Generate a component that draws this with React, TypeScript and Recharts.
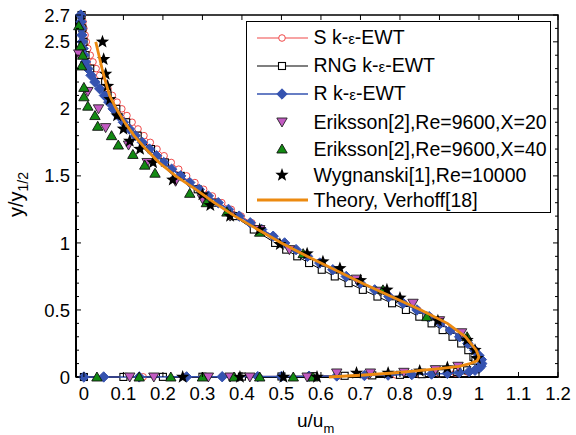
import React from 'react';
import { ScatterChart, Scatter, XAxis, YAxis, ReferenceArea } from 'recharts';

// [u/um, y/y1/2] pairs, listed from the outer edge down to the wall
const sKeEwt: [number, number][] = [
  [-0.004, 2.7], [-0.002, 2.65], [0.0, 2.6], [0.003, 2.55], [0.006, 2.5], [0.01, 2.45], [0.016, 2.4],
  [0.023, 2.35], [0.031, 2.3], [0.04, 2.25], [0.05, 2.2], [0.061, 2.15], [0.072, 2.1], [0.084, 2.05],
  [0.096, 2.0], [0.109, 1.95], [0.122, 1.9], [0.137, 1.85], [0.152, 1.8], [0.168, 1.75], [0.185, 1.7],
  [0.203, 1.65], [0.221, 1.6], [0.24, 1.55], [0.26, 1.5], [0.281, 1.45], [0.303, 1.4], [0.325, 1.35],
  [0.349, 1.3], [0.373, 1.25], [0.398, 1.2], [0.425, 1.15], [0.452, 1.1], [0.48, 1.05], [0.508, 1.0],
  [0.537, 0.95], [0.566, 0.9], [0.598, 0.85], [0.63, 0.8], [0.665, 0.75], [0.7, 0.7], [0.737, 0.65],
  [0.773, 0.6], [0.81, 0.55], [0.845, 0.5], [0.876, 0.45], [0.904, 0.4], [0.93, 0.35], [0.953, 0.3],
  [0.973, 0.25], [0.99, 0.2], [1.001, 0.15], [1.005, 0.1], [1.0, 0.07], [0.99, 0.05], [0.97, 0.038],
  [0.94, 0.03], [0.9, 0.024], [0.85, 0.019], [0.79, 0.015], [0.72, 0.011], [0.65, 0.008], [0.57, 0.006],
  [0.44, 0.004], [0.35, 0.003], [0.255, 0.002], [0.15, 0.001], [0.05, 0.0003], [0, 0],
];

const rngKeEwt: [number, number][] = [
  [-0.006, 2.7], [-0.004, 2.6], [-0.001, 2.5], [0.004, 2.4], [0.016, 2.3], [0.036, 2.2], [0.06, 2.1],
  [0.082, 2.0], [0.107, 1.9], [0.136, 1.8], [0.17, 1.7], [0.205, 1.6], [0.245, 1.5], [0.288, 1.4],
  [0.333, 1.3], [0.38, 1.2], [0.43, 1.1], [0.484, 1.0], [0.512, 0.95], [0.54, 0.9], [0.57, 0.85],
  [0.602, 0.8], [0.635, 0.75], [0.67, 0.7], [0.706, 0.65], [0.743, 0.6], [0.78, 0.55], [0.815, 0.5],
  [0.849, 0.45], [0.88, 0.4], [0.908, 0.35], [0.933, 0.3], [0.955, 0.25], [0.973, 0.2], [0.986, 0.15],
  [0.991, 0.12], [0.99, 0.09], [0.985, 0.07], [0.97, 0.05], [0.945, 0.038], [0.905, 0.028], [0.855, 0.021],
  [0.8, 0.016], [0.73, 0.012], [0.66, 0.009], [0.58, 0.006], [0.5, 0.004], [0.4, 0.003], [0.3, 0.002],
  [0.2, 0.001], [0.1, 0.0005], [0, 0],
];

const rKeEwt: [number, number][] = [
  [-0.008, 2.7], [-0.007, 2.65], [-0.006, 2.6], [-0.005, 2.55], [-0.004, 2.5], [-0.002, 2.45], [0.0, 2.4],
  [0.004, 2.35], [0.01, 2.3], [0.018, 2.25], [0.028, 2.2], [0.04, 2.15], [0.052, 2.1], [0.063, 2.05],
  [0.074, 2.0], [0.087, 1.95], [0.1, 1.9], [0.115, 1.85], [0.13, 1.8], [0.148, 1.75], [0.166, 1.7],
  [0.184, 1.65], [0.202, 1.6], [0.222, 1.55], [0.245, 1.5], [0.268, 1.45], [0.292, 1.4], [0.315, 1.35],
  [0.34, 1.3], [0.366, 1.25], [0.393, 1.2], [0.421, 1.15], [0.45, 1.1], [0.479, 1.05], [0.508, 1.0],
  [0.537, 0.95], [0.566, 0.9], [0.597, 0.85], [0.63, 0.8], [0.664, 0.75], [0.7, 0.7], [0.736, 0.65],
  [0.772, 0.6], [0.808, 0.55], [0.843, 0.5], [0.874, 0.45], [0.902, 0.4], [0.928, 0.35], [0.951, 0.3],
  [0.972, 0.25], [0.989, 0.2], [1.0, 0.16], [1.006, 0.13], [1.007, 0.1], [1.005, 0.08], [1.0, 0.065],
  [0.99, 0.05], [0.975, 0.04], [0.95, 0.033], [0.92, 0.027], [0.88, 0.022], [0.83, 0.018], [0.77, 0.014],
  [0.71, 0.011], [0.64, 0.008], [0.57, 0.006], [0.5, 0.004], [0.44, 0.003], [0.35, 0.002], [0.26, 0.001],
  [0.14, 0.0006], [0.05, 0.0003], [0, 0],
];

const eriksson20: [number, number][] = [
  [-0.013, 2.41], [0.01, 2.13], [0.037, 2.0], [0.055, 1.86], [0.113, 1.73], [0.16, 1.6], [0.232, 1.46],
  [0.3, 1.33], [0.37, 1.2], [0.445, 1.1], [0.52, 0.95], [0.69, 0.73], [0.75, 0.64], [0.833, 0.55],
  [0.9, 0.42], [0.956, 0.33], [0.947, 0.08], [0.89, 0.055], [0.81, 0.035], [0.725, 0.03], [0.64, 0.03],
  [0.565, 0], [0.42, 0], [0.37, 0], [0.315, 0], [0.177, 0], [0.116, 0],
];

const eriksson40: [number, number][] = [
  [-0.013, 2.62], [-0.008, 2.47], [-0.003, 2.4], [-0.006, 2.32], [0.0, 2.16], [0.0, 2.09], [0.01, 2.02],
  [0.028, 1.95], [0.035, 1.87], [0.07, 1.8], [0.087, 1.73], [0.124, 1.66], [0.154, 1.58], [0.18, 1.52],
  [0.268, 1.37], [0.31, 1.3], [0.362, 1.23], [0.445, 1.08], [0.555, 0.92], [0.757, 0.65], [0.868, 0.45],
  [0.97, 0.3], [0.033, 0], [0.14, 0], [0.22, 0], [0.3, 0], [0.38, 0], [0.445, 0], [0.53, 0], [0.58, 0],
];

const wygnanski: [number, number][] = [
  [0.047, 2.5], [0.05, 2.37], [0.055, 2.26], [0.06, 2.17], [0.066, 2.07], [0.084, 1.95], [0.1, 1.85],
  [0.116, 1.76], [0.142, 1.7], [0.175, 1.6], [0.225, 1.47], [0.3, 1.36], [0.32, 1.28], [0.37, 1.2],
  [0.445, 1.1], [0.496, 0.99], [0.565, 0.92], [0.605, 0.86], [0.648, 0.81], [0.7, 0.72], [0.767, 0.65],
  [0.8, 0.59], [0.896, 0.42], [0.97, 0.275], [0.99, 0.2], [0.995, 0.14], [0.92, 0.07], [0.85, 0.045],
  [0.77, 0.03], [0.69, 0.03], [0.59, 0], [0.505, 0], [0.395, 0], [0.25, 0],
];

const verhoff: [number, number][] = [
  [0.03, 2.5], [0.038, 2.4], [0.046, 2.3], [0.055, 2.2], [0.065, 2.1], [0.082, 2.0], [0.103, 1.9],
  [0.127, 1.8], [0.157, 1.7], [0.19, 1.6], [0.232, 1.5], [0.283, 1.4], [0.33, 1.3], [0.382, 1.2],
  [0.44, 1.1], [0.5, 1.0], [0.565, 0.9], [0.635, 0.8], [0.705, 0.7], [0.778, 0.6], [0.853, 0.5],
  [0.92, 0.4], [0.966, 0.3], [0.993, 0.2], [1.0, 0.15], [0.995, 0.12], [0.977, 0.1], [0.95, 0.08],
  [0.9, 0.063], [0.84, 0.045], [0.775, 0.028], [0.7, 0.013], [0.62, 0],
];

const xTicks = [0, 0.1, 0.2, 0.3, 0.4, 0.5, 0.6, 0.7, 0.8, 0.9, 1, 1.1, 1.2];
const yTicks = [0, 0.1, 0.2, 0.3, 0.4, 0.5, 0.6, 0.7, 0.8, 0.9, 1, 1.1, 1.2, 1.3, 1.4, 1.5, 1.6, 1.7, 1.8, 1.9, 2, 2.1, 2.2, 2.3, 2.4, 2.5, 2.6, 2.7];
const yLabels = [0, 0.5, 1, 1.5, 2, 2.5, 2.7];

const legendNames = [
  'S k-ε-EWT',
  'RNG k-ε-EWT',
  'R k-ε-EWT',
  'Eriksson[2],Re=9600,X=20',
  'Eriksson[2],Re=9600,X=40',
  'Wygnanski[1],Re=10000',
  'Theory, Verhoff[18]',
];

const FONT = '"Liberation Sans", Arial, Helvetica, sans-serif';
const W = 576;
const H = 435;
const PLOT = { left: 76, right: 558, top: 15, bottom: 377 };

const RED = '#f04848';
const BLUE = '#3553b0';
const ORANGE = '#ec8a10';
const MAGENTA = '#c25ac2';
const GREEN = '#128a12';

const toRows = (pts: [number, number][]) => pts.map(([u, y]) => ({ u, y }));

// marker shapes
const circle = (cx: number, cy: number) => (
  <circle cx={cx} cy={cy} r={3.3} fill="#fff" stroke={RED} strokeWidth={1} />
);
const square = (cx: number, cy: number) => (
  <rect x={cx - 3.5} y={cy - 3.5} width={7} height={7} fill="#fff" stroke="#000" strokeWidth={1.1} />
);
const diamond = (cx: number, cy: number) => (
  <path d={`M${cx},${cy - 5.2}L${cx + 5.2},${cy}L${cx},${cy + 5.2}L${cx - 5.2},${cy}Z`} fill={BLUE} stroke={BLUE} strokeWidth={1} />
);
const triDown = (cx: number, cy: number) => (
  <path d={`M${cx - 5.2},${cy - 4}L${cx + 5.2},${cy - 4}L${cx},${cy + 5}Z`} fill={MAGENTA} stroke="#222" strokeWidth={0.9} />
);
const triUp = (cx: number, cy: number) => (
  <path d={`M${cx - 5.2},${cy + 4}L${cx + 5.2},${cy + 4}L${cx},${cy - 5}Z`} fill={GREEN} stroke="#111" strokeWidth={0.9} />
);
const star = (cx: number, cy: number, R = 7, r = 2.9) => {
  let d = '';
  for (let i = 0; i < 10; i++) {
    const a = -Math.PI / 2 + (i * Math.PI) / 5;
    const rad = i % 2 === 0 ? R : r;
    d += `${i === 0 ? 'M' : 'L'}${(cx + rad * Math.cos(a)).toFixed(2)},${(cy + rad * Math.sin(a)).toFixed(2)}`;
  }
  return <path d={d + 'Z'} fill="#000" />;
};

const XTick = (props: any) => {
  const { x, payload } = props;
  return (
    <g>
      <line x1={x} x2={x} y1={PLOT.bottom} y2={PLOT.bottom - 5} stroke="#000" />
      <line x1={x} x2={x} y1={PLOT.top} y2={PLOT.top + 5} stroke="#000" />
      <text x={x} y={400} textAnchor="middle" fontSize={18.5} fontFamily={FONT} fill="#000">
        {payload.value}
      </text>
    </g>
  );
};

const YTick = (props: any) => {
  const { y, payload } = props;
  const major = yLabels.includes(payload.value);
  const len = major ? 5 : 3;
  return (
    <g>
      <line x1={PLOT.left} x2={PLOT.left + len} y1={y} y2={y} stroke="#000" />
      <line x1={PLOT.right} x2={PLOT.right - len} y1={y} y2={y} stroke="#000" />
      {major && (
        <text x={70} y={y + 6.6} textAnchor="end" fontSize={18.5} fontFamily={FONT} fill="#000">
          {payload.value}
        </text>
      )}
    </g>
  );
};

const XTitle = () => (
  <text x={297} y={427} fontSize={19} fontFamily={FONT} fill="#000">
    u/u<tspan fontSize={13} dy={6}>m</tspan>
  </text>
);

const YTitle = () => (
  <text transform="translate(23, 217) rotate(-90)" fontSize={20} fontFamily={FONT} fill="#000">
    y/y<tspan fontSize={14} dy={5}>1/2</tspan>
  </text>
);

const legendIcons = [
  (
    <g>
      <line x1={11} x2={62} y1={11} y2={11} stroke={RED} strokeWidth={1.2} />
      {circle(36, 11)}
    </g>
  ),
  (
    <g>
      <line x1={11} x2={62} y1={11} y2={11} stroke="#000" strokeWidth={1.2} />
      {square(36, 11)}
    </g>
  ),
  (
    <g>
      <line x1={11} x2={62} y1={11} y2={11} stroke={BLUE} strokeWidth={1.5} />
      {diamond(36, 11)}
    </g>
  ),
  triDown(36, 11),
  triUp(36, 11),
  star(36, 11),
  <line x1={11} x2={62} y1={11} y2={11} stroke={ORANGE} strokeWidth={2.8} />,
];

const legendRows = [17, 45, 73, 101, 128, 154, 179];

function LegendBox() {
  return (
    <div
      style={{
        position: 'absolute',
        left: 246,
        top: 21,
        width: 305,
        height: 192,
        border: '1.5px solid #000',
        boxSizing: 'border-box',
        background: '#fff',
        fontFamily: FONT,
      }}
    >
      {legendNames.map((name, i) => (
        <div
          key={name}
          style={{ position: 'absolute', left: -1.5, top: legendRows[i] - 11 - 1.5, height: 22, display: 'flex', alignItems: 'center', whiteSpace: 'nowrap' }}
        >
          <svg width={68} height={22} style={{ display: 'block' }}>
            {legendIcons[i]}
          </svg>
          <span style={{ fontSize: 19.5, lineHeight: '22px', color: '#000' }}>
            {name.split('ε').map((part, k, arr) => (
              <React.Fragment key={k}>
                {part}
                {k < arr.length - 1 && <span style={{ fontSize: 15 }}>ε</span>}
              </React.Fragment>
            ))}
          </span>
        </div>
      ))}
    </div>
  );
}

export default function App() {
  return (
    <div style={{ position: 'absolute', left: 0, top: 0, width: W, height: H, background: '#fff' }}>
      <ScatterChart width={W} height={H} margin={{ top: PLOT.top, right: W - PLOT.right, bottom: 18, left: 0 }}>
        <XAxis
          type="number"
          dataKey="u"
          domain={[-0.02, 1.2]}
          ticks={xTicks}
          interval={0}
          height={40}
          tickLine={false}
          axisLine={{ stroke: '#000', strokeWidth: 2 }}
          tick={XTick}
          label={<XTitle />}
        />
        <YAxis
          type="number"
          dataKey="y"
          domain={[0, 2.7]}
          ticks={yTicks}
          interval={0}
          width={PLOT.left}
          tickLine={false}
          axisLine={{ stroke: '#000', strokeWidth: 2 }}
          tick={YTick}
          label={<YTitle />}
        />
        <ReferenceArea x1={-0.02} x2={1.2} y1={0} y2={2.7} fill="none" stroke="#000" strokeWidth={1.5} />
        <Scatter
          name={legendNames[0]}
          data={toRows(sKeEwt)}
          line={{ stroke: RED, strokeWidth: 1 }}
          shape={(p: any) => circle(p.cx, p.cy)}
          isAnimationActive={false}
        />
        <Scatter
          name={legendNames[1]}
          data={toRows(rngKeEwt)}
          line={{ stroke: '#000', strokeWidth: 1 }}
          shape={(p: any) => square(p.cx, p.cy)}
          isAnimationActive={false}
        />
        <Scatter
          name={legendNames[2]}
          data={toRows(rKeEwt)}
          line={{ stroke: BLUE, strokeWidth: 1.5 }}
          shape={(p: any) => diamond(p.cx, p.cy)}
          isAnimationActive={false}
        />
        <Scatter
          name={legendNames[3]}
          data={toRows(eriksson20)}
          shape={(p: any) => triDown(p.cx, p.cy)}
          isAnimationActive={false}
        />
        <Scatter
          name={legendNames[4]}
          data={toRows(eriksson40)}
          shape={(p: any) => triUp(p.cx, p.cy)}
          isAnimationActive={false}
        />
        <Scatter
          name={legendNames[5]}
          data={toRows(wygnanski)}
          shape={(p: any) => star(p.cx, p.cy)}
          isAnimationActive={false}
        />
        <Scatter
          name={legendNames[6]}
          data={toRows(verhoff)}
          line={{ stroke: ORANGE, strokeWidth: 2.8 }}
          shape={() => <g />}
          isAnimationActive={false}
        />
      </ScatterChart>
      <LegendBox />
    </div>
  );
}
